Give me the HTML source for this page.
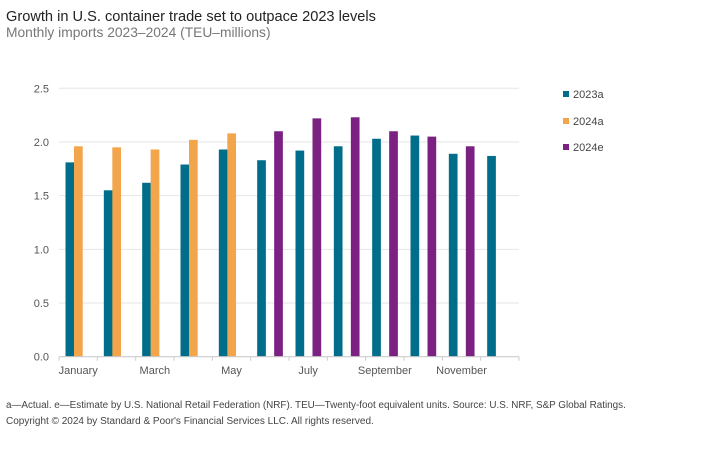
<!DOCTYPE html>
<html><head><meta charset="utf-8"><style>
body{margin:0;background:#fff;font-family:"Liberation Sans",sans-serif;}
svg text{font-family:"Liberation Sans",sans-serif;}
</style></head><body>
<svg width="723" height="454">
<text x="6" y="21" font-size="14.6" fill="#222">Growth in U.S. container trade set to outpace 2023 levels</text>
<text x="6" y="37" font-size="13.8" fill="#777">Monthly imports 2023–2024 (TEU–millions)</text>
<g id="plot"></g>
<g>
<rect x="563" y="91" width="6" height="6" fill="#006e8a"/>
<text x="573" y="98" font-size="11" fill="#444">2023a</text>
<rect x="563" y="118" width="6" height="6" fill="#f2a54a"/>
<text x="573" y="125" font-size="11" fill="#444">2024a</text>
<rect x="563" y="144" width="6" height="6" fill="#7b2182"/>
<text x="573" y="151" font-size="11" fill="#444">2024e</text>
</g>
<text x="6" y="408" font-size="9.9" fill="#444">a—Actual. e—Estimate by U.S. National Retail Federation (NRF). TEU—Twenty-foot equivalent units. Source: U.S. NRF, S&amp;P Global Ratings.</text>
<text x="6" y="424" font-size="10" fill="#444">Copyright © 2024 by Standard &amp; Poor's Financial Services LLC. All rights reserved.</text>
</svg>
<script>
const months=["January","February","March","April","May","June","July","August","September","October","November","December"];
const s2023a=[1.81,1.55,1.62,1.79,1.93,1.83,1.92,1.96,2.03,2.06,1.89,1.87];
const s2024a=[1.96,1.95,1.93,2.02,2.08,null,null,null,null,null,null,null];
const s2024e=[null,null,null,null,null,2.10,2.22,2.23,2.10,2.05,1.96,null];
const yTicks=[0,0.5,1,1.5,2,2.5];
const yTickLabels=["0.0","0.5","1.0","1.5","2.0","2.5"];
const NS="http://www.w3.org/2000/svg";
const g=document.getElementById('plot');
const X0=59,X1=519,Y0=356.7,Y1=88.3,YMAX=2.5;
const cw=(X1-X0)/months.length;
function y(v){return Y0-(v/YMAX)*(Y0-Y1);}
function xl(i){return X0+i*cw;}
function mk(t,a){const e=document.createElementNS(NS,t);for(const k in a)e.setAttribute(k,a[k]);g.appendChild(e);return e;}
yTicks.forEach((t,i)=>{
 if(t>0){const l=mk('line',{x1:X0,x2:X1,y1:y(t),y2:y(t),stroke:'#e6e6e6','stroke-width':1});
 
 }
 const tx=mk('text',{x:49,y:y(t)+4,'font-size':11,fill:'#555','text-anchor':'end'});
 tx.textContent=yTickLabels[i];
 
 
});
const series=[[s2023a,'#006e8a',6.5,'2023a'],[s2024a,'#f2a54a',15,'2024a'],[s2024e,'#7b2182',23.5,'2024e']];
series.forEach(([arr,col,off,nm])=>{
 arr.forEach((v,i)=>{
  if(v==null)return;
  const r=mk('rect',{x:xl(i)+off,y:y(v),width:8.7,height:Y0-y(v),fill:col});
  
  
 });
});
const ax=mk('line',{x1:X0,x2:X1,y1:Y0,y2:Y0,stroke:'#ccc','stroke-width':1.2});


for(let i=0;i<=months.length;i++){
 const t=mk('line',{x1:xl(i),x2:xl(i),y1:Y0,y2:Y0+4,stroke:'#ccc'});
 
 
}
months.forEach((m,i)=>{
 if(i%2)return;
 const tx=mk('text',{x:xl(i)+cw/2,y:374,'font-size':11,fill:'#555','text-anchor':'middle'});
 tx.textContent=m;
 
 
});
</script>
</body></html>
